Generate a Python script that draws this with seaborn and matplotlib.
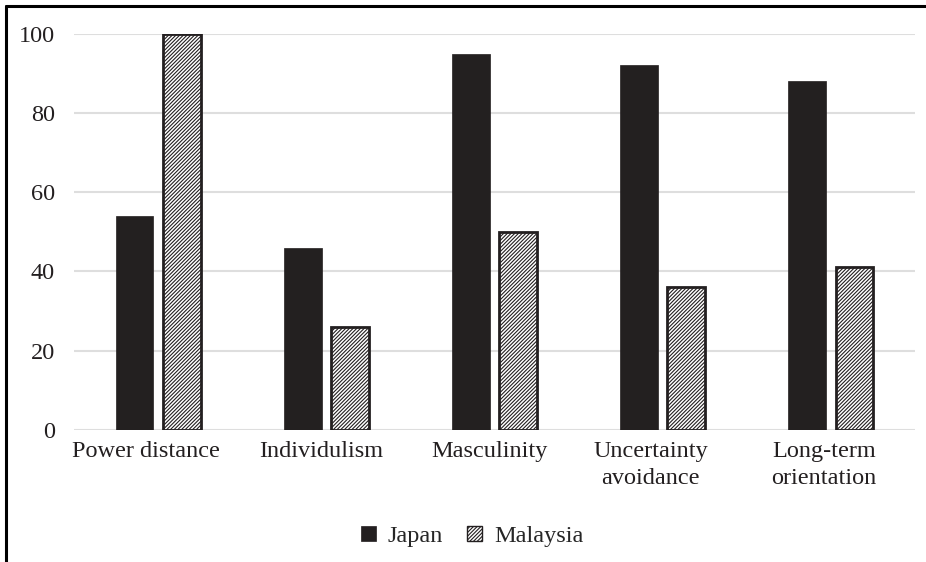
import matplotlib
matplotlib.use("Agg")
import matplotlib.pyplot as plt
import matplotlib.transforms as mtransforms
from matplotlib.lines import Line2D
from matplotlib.patches import Patch
import seaborn as sns
import pandas as pd

dimensions = ["Power distance", "Individulism", "Masculinity",
              "Uncertainty\navoidance", "Long-term\norientation"]
japan = [54, 46, 95, 92, 88]
malaysia = [100, 26, 50, 36, 41]
countries = ["Japan", "Malaysia"]
y_ticks = [0, 20, 40, 60, 80, 100]

df = pd.DataFrame({
    "dimension": dimensions * 2,
    "score": japan + malaysia,
    "country": ["Japan"] * len(japan) + ["Malaysia"] * len(malaysia),
})

sns.set_theme(style="white")
plt.rcParams["font.family"] = ["Liberation Serif", "DejaVu Serif"]
plt.rcParams["hatch.linewidth"] = 0.8
plt.rcParams["hatch.color"] = "#3a3a3a"

fig = plt.figure(figsize=(9.26, 5.62), dpi=100)
ax = fig.add_axes([0.080, 0.235, 0.908, 0.705])

dark = "#231f20"
sns.barplot(data=df, x="dimension", y="score", hue="country",
            palette={"Japan": dark, "Malaysia": "white"},
            width=0.56, gap=0.2, ax=ax, legend=False, zorder=3)

n = len(dimensions)
for i, patch in enumerate(ax.patches):
    if i >= n:
        patch.set_hatch("/////////")
        patch.set_edgecolor(dark)
        patch.set_linewidth(2.0)
    else:
        patch.set_edgecolor(dark)
        patch.set_linewidth(0.5)

ax.set_ylim(0, 100)
ax.set_yticks(y_ticks)
ax.set_xlim(-0.5, n - 0.5)
ax.yaxis.grid(True, color="#dedede", linewidth=1.5, zorder=0)
ax.set_axisbelow(True)
for s in ax.spines.values():
    s.set_visible(False)
ax.set_xlabel("")
ax.set_ylabel("")
ax.tick_params(axis="y", length=0, pad=14, labelsize=17.5, labelcolor="#231f20")
ax.tick_params(axis="x", length=0, pad=8, labelsize=17.5, labelcolor="#231f20")

# category labels sit slightly left of their bar pairs
label_shift_px = [-12, -5, -5, -12, -7]
for lab, dx in zip(ax.get_xticklabels(), label_shift_px):
    lab.set_linespacing(1.4)
    lab.set_transform(lab.get_transform() +
                      mtransforms.ScaledTranslation(dx / 100, 0, fig.dpi_scale_trans))

handles = [
    Patch(facecolor=dark, edgecolor=dark, linewidth=0.5, label="Japan"),
    Patch(facecolor="white", edgecolor=dark, hatch="/////////", linewidth=1.0,
          label="Malaysia"),
]
fig.legend(handles=handles, loc="center", bbox_to_anchor=(0.510, 0.046),
           ncol=2, frameon=False, fontsize=17.5, handlelength=0.6,
           handleheight=0.6, handletextpad=0.5, columnspacing=1.0)

# outer frame along the top and left edges
fig.add_artist(Line2D([6 / 926, 1.0], [1 - 6 / 562, 1 - 6 / 562],
                      transform=fig.transFigure, color="black", linewidth=2.2))
fig.add_artist(Line2D([6 / 926, 6 / 926], [0.0, 1 - 6 / 562],
                      transform=fig.transFigure, color="black", linewidth=2.2))

fig.savefig("out.png", dpi=100, facecolor="white")
